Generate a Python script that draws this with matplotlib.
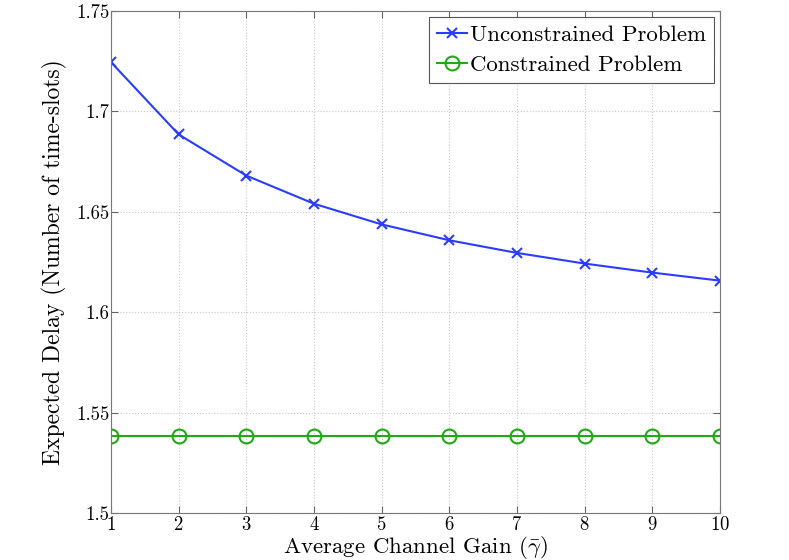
import matplotlib
matplotlib.use("Agg")
from matplotlib import pyplot as plt

plt.rcParams['font.family'] = ['cmr10', 'DejaVu Serif']
plt.rcParams['mathtext.fontset'] = 'cm'
plt.rcParams['axes.formatter.use_mathtext'] = True

gain = [1, 2, 3, 4, 5, 6, 7, 8, 9, 10]
unconstrained = [1.7245, 1.6885, 1.668, 1.654, 1.6437, 1.6358, 1.6295, 1.6242, 1.6197, 1.6157]
constrained = [1.5385] * 10

fig = plt.figure(figsize=(7.89, 5.60), dpi=100)
ax = fig.add_axes([0.1407, 0.0840, 0.7718, 0.8964])

ax.plot(gain, unconstrained, color='#2a3cff', marker='x', markersize=7,
        markeredgewidth=1.5, linewidth=1.5, label='Unconstrained Problem')
ax.plot(gain, constrained, color='#1faa14', marker='o', markersize=10,
        markerfacecolor='none', markeredgewidth=1.5, linewidth=1.5,
        label='Constrained Problem')

ax.set_xlim(1, 10)
ax.set_ylim(1.5, 1.75)
ax.set_xticks(gain)
ax.set_yticks([1.5, 1.55, 1.6, 1.65, 1.7, 1.75])
ax.set_yticklabels(['1.5', '1.55', '1.6', '1.65', '1.7', '1.75'])
ax.grid(True, linestyle=':', color='#c8c8c8', linewidth=0.8)
ax.tick_params(direction='in', top=True, right=True, labelsize=13.5, length=5, color='#666666')
ax.tick_params(axis='x', pad=2)
ax.tick_params(axis='y', pad=1)
for s in ax.spines.values():
    s.set_color('#777777')

ax.set_xlabel(r'Average Channel Gain ($\bar{\gamma}$)', fontsize=16.5, labelpad=0)
ax.set_ylabel('Expected Delay (Number of time-slots)', fontsize=17, labelpad=7)

leg = ax.legend(loc='upper right', fontsize=16.5, fancybox=False, framealpha=1,
                edgecolor='#555555', handlelength=1.3, handletextpad=0.15,
                borderaxespad=0.25, labelspacing=0.45, borderpad=0.35)
leg.get_frame().set_linewidth(0.8)

plt.savefig('out.png', dpi=100)
